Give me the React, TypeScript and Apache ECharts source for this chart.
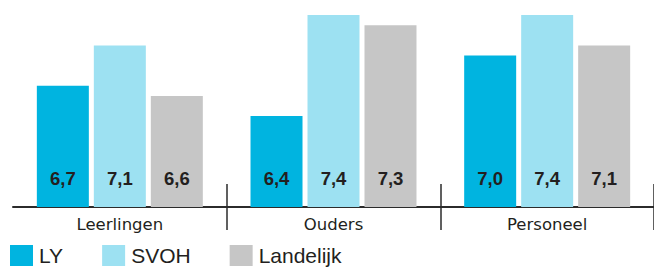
import React, { useEffect, useRef } from "react";
import * as echarts from "echarts";

const categories = ["Leerlingen", "Ouders", "Personeel"];
const seriesNames = ["LY", "SVOH", "Landelijk"];
const lyValues = [6.7, 6.4, 7.0];
const svohValues = [7.1, 7.4, 7.4];
const landelijkValues = [6.6, 7.3, 7.1];
const colors = ["#00b4e0", "#9de1f2", "#c6c6c6"];

export default function App() {
  const ref = useRef<HTMLDivElement>(null);
  useEffect(() => {
    if (!ref.current) return;
    const chart = echarts.init(ref.current, null, { renderer: "svg" });
    const values = [lyValues, svohValues, landelijkValues];
    const tickStyle = { color: "#2b2b2b", width: 1.5 };
    chart.setOption({
      animation: false,
      grid: { left: 13, right: -2, top: 5, bottom: 60 },
      legend: {
        left: 10,
        top: 245,
        padding: 0,
        itemWidth: 23,
        itemHeight: 21,
        itemGap: 39,
        icon: "rect",
        textStyle: {
          fontFamily: "Liberation Sans",
          fontSize: 21,
          lineHeight: 20,
          color: "#231f20",
          padding: [0, 0, 0, 1],
        },
        data: seriesNames,
      },
      xAxis: [
        {
          type: "category",
          data: categories,
          axisLine: { show: true, lineStyle: { color: "#2b2b2b", width: 2 } },
          axisTick: { show: true, length: 23, lineStyle: tickStyle, interval: (i: number) => i > 0 },
          axisLabel: { margin: 9, fontFamily: "DejaVu Sans", fontSize: 16.5, color: "#231f20" },
        },
        {
          type: "category",
          data: categories,
          position: "bottom",
          axisLine: { show: false },
          axisTick: { show: true, inside: true, length: 23, lineStyle: tickStyle, interval: (i: number) => i > 0 },
          axisLabel: { show: false },
        },
      ],
      yAxis: {
        type: "value",
        min: 5.5,
        max: 7.5,
        show: false,
        splitLine: { show: false },
      },
      series: seriesNames.map((name, si) => ({
        name,
        type: "bar",
        xAxisIndex: 0,
        data: values[si],
        barWidth: 52,
        barGap: "9.6%",
        itemStyle: { color: colors[si] },
        label: {
          show: true,
          position: "insideBottom",
          distance: 19,
          fontFamily: "Liberation Sans",
          fontWeight: "bold",
          fontSize: 18.5,
          color: "#231f20",
          formatter: (p: any) => p.value.toFixed(1).replace(".", ","),
        },
      })),
    });
    return () => chart.dispose();
  }, []);
  return (
    <div
      ref={ref}
      style={{ position: "absolute", left: 0, top: 0, width: 654, height: 267 }}
    />
  );
}
